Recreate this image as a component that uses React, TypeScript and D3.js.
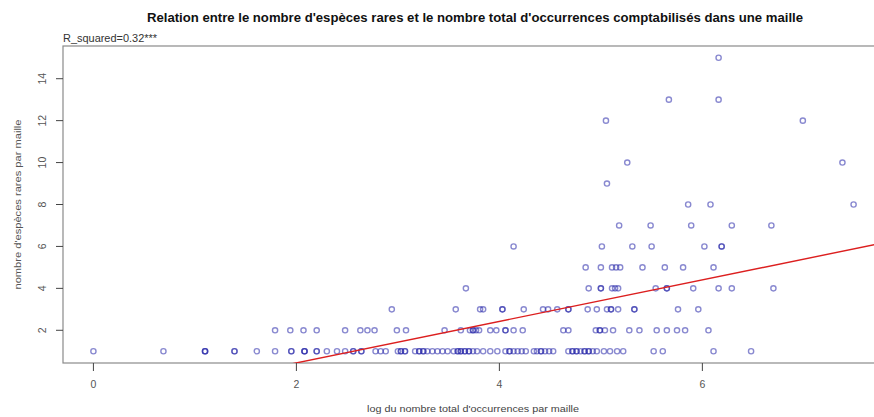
import React, { useEffect } from "react";
import * as d3 from "d3";

// x = log of total occurrences per cell, grouped by number of rare species (y)
const rareCounts = [1, 2, 3, 4, 5, 6, 7, 8, 9, 10, 12, 13, 15];

const logOcc1 = [
  0, 0.69, 1.1, 1.1, 1.1, 1.39, 1.39, 1.61, 1.79, 1.95, 1.95, 2.08, 2.08, 2.08, 2.2, 2.2, 2.3, 2.4, 2.48, 2.56, 2.56, 2.64, 2.64,
  2.78, 2.83, 2.88, 3.0, 3.03, 3.03, 3.07, 3.07, 3.17, 3.21, 3.21, 3.25, 3.25, 3.29, 3.34, 3.39, 3.44, 3.49,
  3.55, 3.59, 3.59, 3.62, 3.62, 3.66, 3.66, 3.7, 3.7, 3.74, 3.78, 3.84, 3.91, 3.98,
  4.06, 4.1, 4.1, 4.14, 4.18, 4.22, 4.26, 4.34, 4.37, 4.41, 4.41, 4.45, 4.49, 4.53,
  4.68, 4.72, 4.72, 4.76, 4.76, 4.8, 4.84, 4.84, 4.88, 4.88, 4.92, 4.96,
  5.03, 5.09, 5.16, 5.22, 5.52, 5.61, 6.11, 6.48,
];
const logOcc2 = [
  1.79, 1.94, 2.07, 2.2, 2.48, 2.63, 2.7, 2.77, 2.99, 3.08, 3.46, 3.62, 3.71, 3.74, 3.74, 3.77, 3.8, 3.91, 3.97,
  4.06, 4.06, 4.14, 4.23, 4.63, 4.68, 4.95, 4.99, 4.99, 5.04, 5.12, 5.28, 5.38, 5.55, 5.65, 5.75, 5.83, 6.06,
];
const logOcc3 = [
  2.94, 3.57, 3.81, 3.84, 4.03, 4.03, 4.24, 4.43, 4.48, 4.57, 4.68, 4.68, 4.87, 4.96, 5.06, 5.1, 5.1, 5.17, 5.33, 5.33, 5.76, 5.96,
];
const logOcc4 = [3.67, 4.88, 5.0, 5.0, 5.11, 5.14, 5.17, 5.54, 5.65, 5.65, 5.91, 6.16, 6.29, 6.7];
const logOcc5 = [4.85, 5.0, 5.11, 5.15, 5.19, 5.41, 5.63, 5.81, 6.11];
const logOcc6 = [4.14, 5.01, 5.31, 5.5, 6.02, 6.19, 6.19];
const logOcc7 = [5.18, 5.49, 5.89, 6.29, 6.68];
const logOcc8 = [5.86, 6.08, 7.49];
const logOcc9 = [5.06];
const logOcc10 = [5.26, 7.38];
const logOcc12 = [5.05, 6.99];
const logOcc13 = [5.67, 6.16];
const logOcc15 = [6.16];

const seriesByRare = [
  logOcc1, logOcc2, logOcc3, logOcc4, logOcc5, logOcc6, logOcc7, logOcc8, logOcc9, logOcc10, logOcc12, logOcc13, logOcc15,
];

const xTicks = [0, 2, 4, 6];
const yTicks = [2, 4, 6, 8, 10, 12, 14];

// linear model fit
const intercept = -1.535;
const slope = 0.99;

const titleText =
  "Relation entre le nombre d'espèces rares et le nombre total d'occurrences comptabilisés dans une maille";
const rSquaredText = "R_squared=0.32***";
const xLabel = "log du nombre total d'occurrences par maille";
const yLabel = "nombre d'espèces rares par maille";

const W = 874;
const H = 417;
const left = 63;
const right = 884;
const top = 46;
const bottom = 363;

export default function App() {
  useEffect(() => {
    document.body.style.margin = "0";
  }, []);

  const points: { x: number; y: number }[] = [];
  seriesByRare.forEach((arr, i) => arr.forEach((v) => points.push({ x: v, y: rareCounts[i] })));

  const xExt = d3.extent(points, (d) => d.x) as [number, number];
  const yExt = d3.extent(points, (d) => d.y) as [number, number];
  const xPad = (xExt[1] - xExt[0]) * 0.04;
  const yPad = (yExt[1] - yExt[0]) * 0.04;
  const x = d3.scaleLinear().domain([xExt[0] - xPad, xExt[1] + xPad]).range([left, right]);
  const y = d3.scaleLinear().domain([yExt[0] - yPad, yExt[1] + yPad]).range([bottom, top]);

  const [x0, x1] = x.domain();
  const lineGen = d3
    .line<number>()
    .x((d) => x(d))
    .y((d) => y(intercept + slope * d));

  const font = "'Liberation Sans', Arial, sans-serif";
  const textCol = "#555";

  return (
    <svg width={W} height={H} style={{ display: "block", background: "#fff" }} fontFamily={font}>
      <defs>
        <clipPath id="plotClip">
          <rect x={left} y={top} width={right - left} height={bottom - top} />
        </clipPath>
      </defs>
      <text
        x={147}
        y={22}
        fontSize={12.5}
        fontWeight="bold"
        fill="#111"
        textLength={656}
        lengthAdjust="spacingAndGlyphs"
      >
        {titleText}
      </text>
      <text x={63} y={42} fontSize={10} fill="#333" textLength={94} lengthAdjust="spacingAndGlyphs">
        {rSquaredText}
      </text>

      {/* box */}
      <rect x={left} y={top} width={right - left} height={bottom - top} fill="none" stroke="#8a8a8a" strokeWidth={1.2} />

      {/* points */}
      <g clipPath="url(#plotClip)">
        {points.map((p, i) => (
          <circle
            key={i}
            cx={x(p.x)}
            cy={y(p.y)}
            r={2.6}
            fill="none"
            stroke="rgba(40,40,170,0.55)"
            strokeWidth={1.4}
          />
        ))}
        <path d={lineGen([x0, x1]) || ""} stroke="#dc1f1f" strokeWidth={1.4} fill="none" />
      </g>

      {/* x axis */}
      <g>
        {xTicks.map((t) => (
          <g key={t}>
            <line x1={x(t)} x2={x(t)} y1={bottom} y2={bottom + 8} stroke="#444" strokeWidth={1} />
            <text x={x(t)} y={bottom + 25} textAnchor="middle" fontSize={10.5} fill={textCol}>
              {t}
            </text>
          </g>
        ))}
      </g>

      {/* y axis */}
      <g>
        {yTicks.map((t) => (
          <g key={t}>
            <line x1={left - 7} x2={left} y1={y(t)} y2={y(t)} stroke="#444" strokeWidth={1} />
            <text
              transform={`translate(${left - 17},${y(t)}) rotate(-90)`}
              textAnchor="middle"
              fontSize={10.5}
              fill={textCol}
            >
              {t}
            </text>
          </g>
        ))}
      </g>

      <text
        x={367}
        y={412}
        fontSize={9.5}
        fill="#444"
        textLength={212}
        lengthAdjust="spacingAndGlyphs"
      >
        {xLabel}
      </text>
      <text
        transform={`translate(${21},${(top + bottom) / 2}) rotate(-90)`}
        textAnchor="middle"
        fontSize={9.5}
        fill="#555"
        textLength={170}
        lengthAdjust="spacingAndGlyphs"
      >
        {yLabel}
      </text>
    </svg>
  );
}
